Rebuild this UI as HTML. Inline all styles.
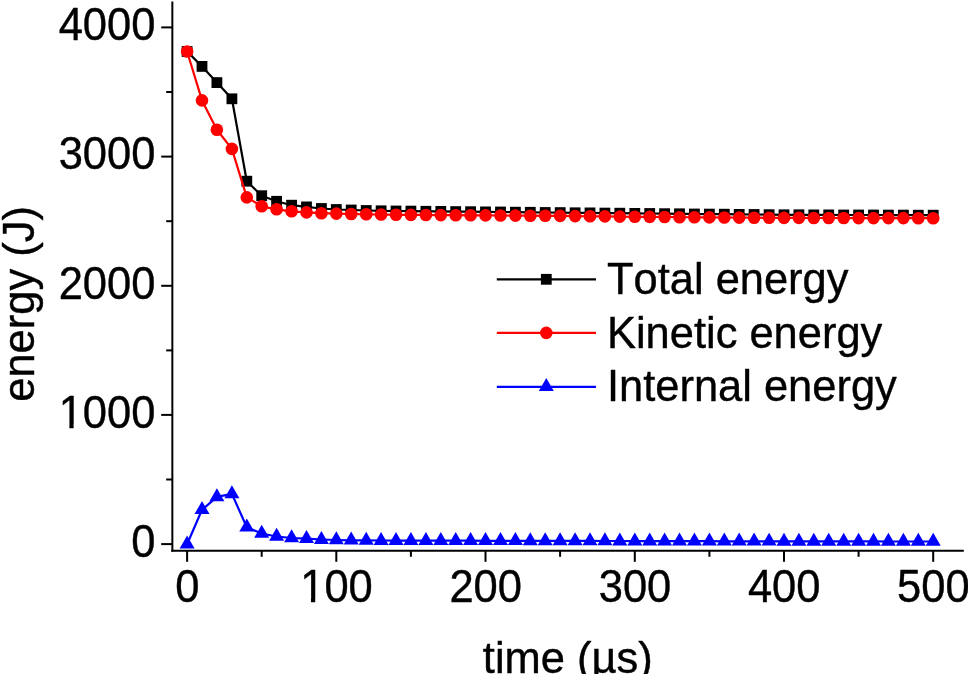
<!DOCTYPE html>
<html><head><meta charset="utf-8"><title>Energy vs time</title>
<style>
html,body{margin:0;padding:0;background:#fff;}
body{width:968px;height:674px;overflow:hidden;font-family:"Liberation Sans",sans-serif;}
</style></head><body>
<svg width="968" height="674" viewBox="0 0 968 674" style="display:block">
<rect width="968" height="674" fill="#fff"/>
<g stroke="#000" stroke-width="2" fill="none">
<line x1="172.35" y1="1.5" x2="172.35" y2="551.8"/>
<line x1="171.35" y1="550.8" x2="963.8" y2="550.8"/>
<line x1="161.2" y1="544.1" x2="172.35" y2="544.1"/>
<line x1="166.2" y1="479.5" x2="172.35" y2="479.5"/>
<line x1="161.2" y1="414.9" x2="172.35" y2="414.9"/>
<line x1="166.2" y1="350.4" x2="172.35" y2="350.4"/>
<line x1="161.2" y1="285.8" x2="172.35" y2="285.8"/>
<line x1="166.2" y1="221.2" x2="172.35" y2="221.2"/>
<line x1="161.2" y1="156.6" x2="172.35" y2="156.6"/>
<line x1="166.2" y1="92.0" x2="172.35" y2="92.0"/>
<line x1="161.2" y1="27.4" x2="172.35" y2="27.4"/>
<line x1="187.1" y1="550.8" x2="187.1" y2="561.8"/>
<line x1="261.7" y1="550.8" x2="261.7" y2="556.8"/>
<line x1="336.3" y1="550.8" x2="336.3" y2="561.8"/>
<line x1="410.9" y1="550.8" x2="410.9" y2="556.8"/>
<line x1="485.5" y1="550.8" x2="485.5" y2="561.8"/>
<line x1="560.1" y1="550.8" x2="560.1" y2="556.8"/>
<line x1="634.8" y1="550.8" x2="634.8" y2="561.8"/>
<line x1="709.4" y1="550.8" x2="709.4" y2="556.8"/>
<line x1="784.0" y1="550.8" x2="784.0" y2="561.8"/>
<line x1="858.6" y1="550.8" x2="858.6" y2="556.8"/>
<line x1="933.2" y1="550.8" x2="933.2" y2="561.8"/>
</g>
<g font-family="Liberation Sans, sans-serif" font-size="43.5" fill="#000" style="font-kerning:none" opacity="0.999">
<text transform="translate(155.4,556.9) scale(1,1.05)" text-anchor="end" stroke="#000" stroke-width="0.4" stroke-linejoin="round">0</text>
<text transform="translate(155.4,427.7) scale(1,1.05)" text-anchor="end" stroke="#000" stroke-width="0.4" stroke-linejoin="round">1000</text>
<text transform="translate(155.4,298.5) scale(1,1.05)" text-anchor="end" stroke="#000" stroke-width="0.4" stroke-linejoin="round">2000</text>
<text transform="translate(155.4,169.3) scale(1,1.05)" text-anchor="end" stroke="#000" stroke-width="0.4" stroke-linejoin="round">3000</text>
<text transform="translate(155.4,40.1) scale(1,1.05)" text-anchor="end" stroke="#000" stroke-width="0.4" stroke-linejoin="round">4000</text>
<text transform="translate(187.3,601.9) scale(1,1.05)" text-anchor="middle" stroke="#000" stroke-width="0.4" stroke-linejoin="round">0</text>
<text transform="translate(336.5,601.9) scale(1,1.05)" text-anchor="middle" stroke="#000" stroke-width="0.4" stroke-linejoin="round">100</text>
<text transform="translate(485.7,601.9) scale(1,1.05)" text-anchor="middle" stroke="#000" stroke-width="0.4" stroke-linejoin="round">200</text>
<text transform="translate(635.0,601.9) scale(1,1.05)" text-anchor="middle" stroke="#000" stroke-width="0.4" stroke-linejoin="round">300</text>
<text transform="translate(784.2,601.9) scale(1,1.05)" text-anchor="middle" stroke="#000" stroke-width="0.4" stroke-linejoin="round">400</text>
<text transform="translate(933.4,601.9) scale(1,1.05)" text-anchor="middle" stroke="#000" stroke-width="0.4" stroke-linejoin="round">500</text>
<text transform="translate(567.8,672.7) scale(1,1.03)" text-anchor="middle" stroke="#000" stroke-width="0.4" stroke-linejoin="round">time (µs)</text>
<text transform="translate(34.1,303.9) rotate(-90) scale(1,1.03)" text-anchor="middle" stroke="#000" stroke-width="0.4" stroke-linejoin="round">energy (J)</text>
<g transform="translate(58.63,427.70) scale(1,1.05)" fill="#fff"><rect x="2.51" y="-3.70" width="8.23" height="5.65"/><rect x="14.98" y="-3.70" width="7.89" height="5.65"/></g>
<g transform="translate(300.23,601.90) scale(1,1.05)" fill="#fff"><rect x="2.51" y="-3.70" width="8.23" height="5.65"/><rect x="14.98" y="-3.70" width="7.89" height="5.65"/></g>
<line x1="496.8" y1="279.3" x2="596" y2="279.3" stroke="#000" stroke-width="2.2"/>
<rect x="540.9" y="273.9" width="10.8" height="10.8" fill="#000"/>
<text transform="translate(607.0,294.1) scale(1,1.03)" text-anchor="start" font-size="43.45" stroke="#000" stroke-width="0.4" stroke-linejoin="round">Total energy</text>
<line x1="496.8" y1="332.9" x2="596" y2="332.9" stroke="#f00" stroke-width="2.2"/>
<circle cx="546.3" cy="332.9" r="6.3" fill="#f00"/>
<text transform="translate(607.0,347.8) scale(1,1.03)" text-anchor="start" font-size="43.45" stroke="#000" stroke-width="0.4" stroke-linejoin="round">Kinetic energy</text>
<line x1="496.8" y1="386.8" x2="596" y2="386.8" stroke="#00f" stroke-width="2.2"/>
<polygon points="546.3,378.1 538.8,391.1 553.8,391.1" fill="#00f"/>
<text transform="translate(607.0,401.4) scale(1,1.03)" text-anchor="start" font-size="43.45" stroke="#000" stroke-width="0.4" stroke-linejoin="round">Internal energy</text>
</g>
<polyline points="187.1,51.5 202.0,66.4 216.9,82.6 231.9,98.8 246.8,181.2 261.7,195.7 276.6,201.3 291.6,205.2 306.5,206.9 321.4,208.5 336.3,209.5 351.2,210.0 366.2,210.5 381.1,210.8 396.0,211.0 410.9,211.1 425.9,211.3 440.8,211.4 455.7,211.6 470.6,211.7 485.5,211.9 500.5,212.0 515.4,212.2 530.3,212.3 545.2,212.5 560.1,212.6 575.1,212.8 590.0,212.9 604.9,213.1 619.8,213.2 634.8,213.4 649.7,213.5 664.6,213.7 679.5,213.8 694.4,214.0 709.4,214.1 724.3,214.2 739.2,214.4 754.1,214.5 769.1,214.7 784.0,214.8 798.9,214.8 813.8,214.9 828.7,214.9 843.7,215.0 858.6,215.0 873.5,215.0 888.4,215.1 903.4,215.1 918.3,215.2 933.2,215.2" fill="none" stroke="#000" stroke-width="2.2" stroke-linejoin="round"/>
<rect x="181.7" y="46.1" width="10.8" height="10.8" fill="#000"/>
<rect x="196.6" y="61.0" width="10.8" height="10.8" fill="#000"/>
<rect x="211.5" y="77.2" width="10.8" height="10.8" fill="#000"/>
<rect x="226.5" y="93.4" width="10.8" height="10.8" fill="#000"/>
<rect x="241.4" y="175.8" width="10.8" height="10.8" fill="#000"/>
<rect x="256.3" y="190.3" width="10.8" height="10.8" fill="#000"/>
<rect x="271.2" y="195.9" width="10.8" height="10.8" fill="#000"/>
<rect x="286.2" y="199.8" width="10.8" height="10.8" fill="#000"/>
<rect x="301.1" y="201.5" width="10.8" height="10.8" fill="#000"/>
<rect x="316.0" y="203.1" width="10.8" height="10.8" fill="#000"/>
<rect x="330.9" y="204.1" width="10.8" height="10.8" fill="#000"/>
<rect x="345.8" y="204.6" width="10.8" height="10.8" fill="#000"/>
<rect x="360.8" y="205.1" width="10.8" height="10.8" fill="#000"/>
<rect x="375.7" y="205.4" width="10.8" height="10.8" fill="#000"/>
<rect x="390.6" y="205.6" width="10.8" height="10.8" fill="#000"/>
<rect x="405.5" y="205.7" width="10.8" height="10.8" fill="#000"/>
<rect x="420.5" y="205.9" width="10.8" height="10.8" fill="#000"/>
<rect x="435.4" y="206.0" width="10.8" height="10.8" fill="#000"/>
<rect x="450.3" y="206.2" width="10.8" height="10.8" fill="#000"/>
<rect x="465.2" y="206.3" width="10.8" height="10.8" fill="#000"/>
<rect x="480.1" y="206.5" width="10.8" height="10.8" fill="#000"/>
<rect x="495.1" y="206.6" width="10.8" height="10.8" fill="#000"/>
<rect x="510.0" y="206.8" width="10.8" height="10.8" fill="#000"/>
<rect x="524.9" y="206.9" width="10.8" height="10.8" fill="#000"/>
<rect x="539.8" y="207.1" width="10.8" height="10.8" fill="#000"/>
<rect x="554.8" y="207.2" width="10.8" height="10.8" fill="#000"/>
<rect x="569.7" y="207.4" width="10.8" height="10.8" fill="#000"/>
<rect x="584.6" y="207.5" width="10.8" height="10.8" fill="#000"/>
<rect x="599.5" y="207.7" width="10.8" height="10.8" fill="#000"/>
<rect x="614.4" y="207.8" width="10.8" height="10.8" fill="#000"/>
<rect x="629.4" y="208.0" width="10.8" height="10.8" fill="#000"/>
<rect x="644.3" y="208.1" width="10.8" height="10.8" fill="#000"/>
<rect x="659.2" y="208.3" width="10.8" height="10.8" fill="#000"/>
<rect x="674.1" y="208.4" width="10.8" height="10.8" fill="#000"/>
<rect x="689.0" y="208.6" width="10.8" height="10.8" fill="#000"/>
<rect x="704.0" y="208.7" width="10.8" height="10.8" fill="#000"/>
<rect x="718.9" y="208.8" width="10.8" height="10.8" fill="#000"/>
<rect x="733.8" y="209.0" width="10.8" height="10.8" fill="#000"/>
<rect x="748.7" y="209.1" width="10.8" height="10.8" fill="#000"/>
<rect x="763.7" y="209.3" width="10.8" height="10.8" fill="#000"/>
<rect x="778.6" y="209.4" width="10.8" height="10.8" fill="#000"/>
<rect x="793.5" y="209.4" width="10.8" height="10.8" fill="#000"/>
<rect x="808.4" y="209.5" width="10.8" height="10.8" fill="#000"/>
<rect x="823.3" y="209.5" width="10.8" height="10.8" fill="#000"/>
<rect x="838.3" y="209.6" width="10.8" height="10.8" fill="#000"/>
<rect x="853.2" y="209.6" width="10.8" height="10.8" fill="#000"/>
<rect x="868.1" y="209.6" width="10.8" height="10.8" fill="#000"/>
<rect x="883.0" y="209.7" width="10.8" height="10.8" fill="#000"/>
<rect x="898.0" y="209.7" width="10.8" height="10.8" fill="#000"/>
<rect x="912.9" y="209.8" width="10.8" height="10.8" fill="#000"/>
<rect x="927.8" y="209.8" width="10.8" height="10.8" fill="#000"/>
<polyline points="187.1,51.5 202.0,100.4 216.9,129.7 231.9,148.9 246.8,197.4 261.7,206.3 276.6,209.3 291.6,211.3 306.5,212.4 321.4,213.2 336.3,213.6 351.2,214.0 366.2,214.3 381.1,214.5 396.0,214.8 410.9,214.9 425.9,215.0 440.8,215.1 455.7,215.2 470.6,215.3 485.5,215.4 500.5,215.5 515.4,215.6 530.3,215.7 545.2,215.8 560.1,215.9 575.1,216.1 590.0,216.3 604.9,216.4 619.8,216.6 634.8,216.8 649.7,216.9 664.6,217.0 679.5,217.2 694.4,217.3 709.4,217.4 724.3,217.5 739.2,217.6 754.1,217.7 769.1,217.8 784.0,217.9 798.9,217.9 813.8,218.0 828.7,218.0 843.7,218.0 858.6,218.1 873.5,218.1 888.4,218.1 903.4,218.1 918.3,218.2 933.2,218.2" fill="none" stroke="#f00" stroke-width="2.2" stroke-linejoin="round"/>
<circle cx="187.1" cy="51.5" r="6.3" fill="#f00"/>
<circle cx="202.0" cy="100.4" r="6.3" fill="#f00"/>
<circle cx="216.9" cy="129.7" r="6.3" fill="#f00"/>
<circle cx="231.9" cy="148.9" r="6.3" fill="#f00"/>
<circle cx="246.8" cy="197.4" r="6.3" fill="#f00"/>
<circle cx="261.7" cy="206.3" r="6.3" fill="#f00"/>
<circle cx="276.6" cy="209.3" r="6.3" fill="#f00"/>
<circle cx="291.6" cy="211.3" r="6.3" fill="#f00"/>
<circle cx="306.5" cy="212.4" r="6.3" fill="#f00"/>
<circle cx="321.4" cy="213.2" r="6.3" fill="#f00"/>
<circle cx="336.3" cy="213.6" r="6.3" fill="#f00"/>
<circle cx="351.2" cy="214.0" r="6.3" fill="#f00"/>
<circle cx="366.2" cy="214.3" r="6.3" fill="#f00"/>
<circle cx="381.1" cy="214.5" r="6.3" fill="#f00"/>
<circle cx="396.0" cy="214.8" r="6.3" fill="#f00"/>
<circle cx="410.9" cy="214.9" r="6.3" fill="#f00"/>
<circle cx="425.9" cy="215.0" r="6.3" fill="#f00"/>
<circle cx="440.8" cy="215.1" r="6.3" fill="#f00"/>
<circle cx="455.7" cy="215.2" r="6.3" fill="#f00"/>
<circle cx="470.6" cy="215.3" r="6.3" fill="#f00"/>
<circle cx="485.5" cy="215.4" r="6.3" fill="#f00"/>
<circle cx="500.5" cy="215.5" r="6.3" fill="#f00"/>
<circle cx="515.4" cy="215.6" r="6.3" fill="#f00"/>
<circle cx="530.3" cy="215.7" r="6.3" fill="#f00"/>
<circle cx="545.2" cy="215.8" r="6.3" fill="#f00"/>
<circle cx="560.1" cy="215.9" r="6.3" fill="#f00"/>
<circle cx="575.1" cy="216.1" r="6.3" fill="#f00"/>
<circle cx="590.0" cy="216.3" r="6.3" fill="#f00"/>
<circle cx="604.9" cy="216.4" r="6.3" fill="#f00"/>
<circle cx="619.8" cy="216.6" r="6.3" fill="#f00"/>
<circle cx="634.8" cy="216.8" r="6.3" fill="#f00"/>
<circle cx="649.7" cy="216.9" r="6.3" fill="#f00"/>
<circle cx="664.6" cy="217.0" r="6.3" fill="#f00"/>
<circle cx="679.5" cy="217.2" r="6.3" fill="#f00"/>
<circle cx="694.4" cy="217.3" r="6.3" fill="#f00"/>
<circle cx="709.4" cy="217.4" r="6.3" fill="#f00"/>
<circle cx="724.3" cy="217.5" r="6.3" fill="#f00"/>
<circle cx="739.2" cy="217.6" r="6.3" fill="#f00"/>
<circle cx="754.1" cy="217.7" r="6.3" fill="#f00"/>
<circle cx="769.1" cy="217.8" r="6.3" fill="#f00"/>
<circle cx="784.0" cy="217.9" r="6.3" fill="#f00"/>
<circle cx="798.9" cy="217.9" r="6.3" fill="#f00"/>
<circle cx="813.8" cy="218.0" r="6.3" fill="#f00"/>
<circle cx="828.7" cy="218.0" r="6.3" fill="#f00"/>
<circle cx="843.7" cy="218.0" r="6.3" fill="#f00"/>
<circle cx="858.6" cy="218.1" r="6.3" fill="#f00"/>
<circle cx="873.5" cy="218.1" r="6.3" fill="#f00"/>
<circle cx="888.4" cy="218.1" r="6.3" fill="#f00"/>
<circle cx="903.4" cy="218.1" r="6.3" fill="#f00"/>
<circle cx="918.3" cy="218.2" r="6.3" fill="#f00"/>
<circle cx="933.2" cy="218.2" r="6.3" fill="#f00"/>
<polyline points="187.1,544.2 202.0,509.8 216.9,496.9 231.9,493.9 246.8,527.2 261.7,533.5 276.6,536.5 291.6,538.0 306.5,538.7 321.4,539.5 336.3,540.0 351.2,540.3 366.2,540.4 381.1,540.5 396.0,540.6 410.9,540.7 425.9,540.7 440.8,540.7 455.7,540.7 470.6,540.7 485.5,540.8 500.5,540.8 515.4,540.8 530.3,540.8 545.2,540.8 560.1,540.9 575.1,540.9 590.0,540.9 604.9,541.0 619.8,541.0 634.8,541.1 649.7,541.1 664.6,541.2 679.5,541.2 694.4,541.2 709.4,541.2 724.3,541.3 739.2,541.3 754.1,541.3 769.1,541.3 784.0,541.3 798.9,541.4 813.8,541.4 828.7,541.4 843.7,541.4 858.6,541.4 873.5,541.4 888.4,541.5 903.4,541.5 918.3,541.5 933.2,541.5" fill="none" stroke="#00f" stroke-width="2.2" stroke-linejoin="round"/>
<polygon points="187.1,535.5 179.6,548.5 194.6,548.5" fill="#00f"/>
<polygon points="202.0,501.1 194.5,514.1 209.5,514.1" fill="#00f"/>
<polygon points="216.9,488.2 209.4,501.2 224.4,501.2" fill="#00f"/>
<polygon points="231.9,485.2 224.4,498.2 239.4,498.2" fill="#00f"/>
<polygon points="246.8,518.5 239.3,531.5 254.3,531.5" fill="#00f"/>
<polygon points="261.7,524.8 254.2,537.8 269.2,537.8" fill="#00f"/>
<polygon points="276.6,527.8 269.1,540.8 284.1,540.8" fill="#00f"/>
<polygon points="291.6,529.3 284.1,542.3 299.1,542.3" fill="#00f"/>
<polygon points="306.5,530.0 299.0,543.0 314.0,543.0" fill="#00f"/>
<polygon points="321.4,530.9 313.9,543.9 328.9,543.9" fill="#00f"/>
<polygon points="336.3,531.3 328.8,544.3 343.8,544.3" fill="#00f"/>
<polygon points="351.2,531.6 343.7,544.6 358.7,544.6" fill="#00f"/>
<polygon points="366.2,531.7 358.7,544.7 373.7,544.7" fill="#00f"/>
<polygon points="381.1,531.9 373.6,544.9 388.6,544.9" fill="#00f"/>
<polygon points="396.0,532.0 388.5,545.0 403.5,545.0" fill="#00f"/>
<polygon points="410.9,532.0 403.4,545.0 418.4,545.0" fill="#00f"/>
<polygon points="425.9,532.0 418.4,545.0 433.4,545.0" fill="#00f"/>
<polygon points="440.8,532.0 433.3,545.0 448.3,545.0" fill="#00f"/>
<polygon points="455.7,532.1 448.2,545.1 463.2,545.1" fill="#00f"/>
<polygon points="470.6,532.1 463.1,545.1 478.1,545.1" fill="#00f"/>
<polygon points="485.5,532.1 478.0,545.1 493.0,545.1" fill="#00f"/>
<polygon points="500.5,532.1 493.0,545.1 508.0,545.1" fill="#00f"/>
<polygon points="515.4,532.1 507.9,545.1 522.9,545.1" fill="#00f"/>
<polygon points="530.3,532.2 522.8,545.2 537.8,545.2" fill="#00f"/>
<polygon points="545.2,532.2 537.7,545.2 552.7,545.2" fill="#00f"/>
<polygon points="560.1,532.2 552.6,545.2 567.6,545.2" fill="#00f"/>
<polygon points="575.1,532.2 567.6,545.2 582.6,545.2" fill="#00f"/>
<polygon points="590.0,532.2 582.5,545.2 597.5,545.2" fill="#00f"/>
<polygon points="604.9,532.3 597.4,545.3 612.4,545.3" fill="#00f"/>
<polygon points="619.8,532.4 612.3,545.4 627.3,545.4" fill="#00f"/>
<polygon points="634.8,532.4 627.3,545.4 642.3,545.4" fill="#00f"/>
<polygon points="649.7,532.5 642.2,545.5 657.2,545.5" fill="#00f"/>
<polygon points="664.6,532.5 657.1,545.5 672.1,545.5" fill="#00f"/>
<polygon points="679.5,532.6 672.0,545.5 687.0,545.5" fill="#00f"/>
<polygon points="694.4,532.6 686.9,545.6 701.9,545.6" fill="#00f"/>
<polygon points="709.4,532.6 701.9,545.6 716.9,545.6" fill="#00f"/>
<polygon points="724.3,532.6 716.8,545.6 731.8,545.6" fill="#00f"/>
<polygon points="739.2,532.6 731.7,545.6 746.7,545.6" fill="#00f"/>
<polygon points="754.1,532.6 746.6,545.6 761.6,545.6" fill="#00f"/>
<polygon points="769.1,532.7 761.6,545.6 776.6,545.6" fill="#00f"/>
<polygon points="784.0,532.7 776.5,545.7 791.5,545.7" fill="#00f"/>
<polygon points="798.9,532.7 791.4,545.7 806.4,545.7" fill="#00f"/>
<polygon points="813.8,532.7 806.3,545.7 821.3,545.7" fill="#00f"/>
<polygon points="828.7,532.7 821.2,545.7 836.2,545.7" fill="#00f"/>
<polygon points="843.7,532.7 836.2,545.7 851.2,545.7" fill="#00f"/>
<polygon points="858.6,532.8 851.1,545.7 866.1,545.7" fill="#00f"/>
<polygon points="873.5,532.8 866.0,545.8 881.0,545.8" fill="#00f"/>
<polygon points="888.4,532.8 880.9,545.8 895.9,545.8" fill="#00f"/>
<polygon points="903.4,532.8 895.9,545.8 910.9,545.8" fill="#00f"/>
<polygon points="918.3,532.8 910.8,545.8 925.8,545.8" fill="#00f"/>
<polygon points="933.2,532.8 925.7,545.8 940.7,545.8" fill="#00f"/>
</svg>
</body></html>
